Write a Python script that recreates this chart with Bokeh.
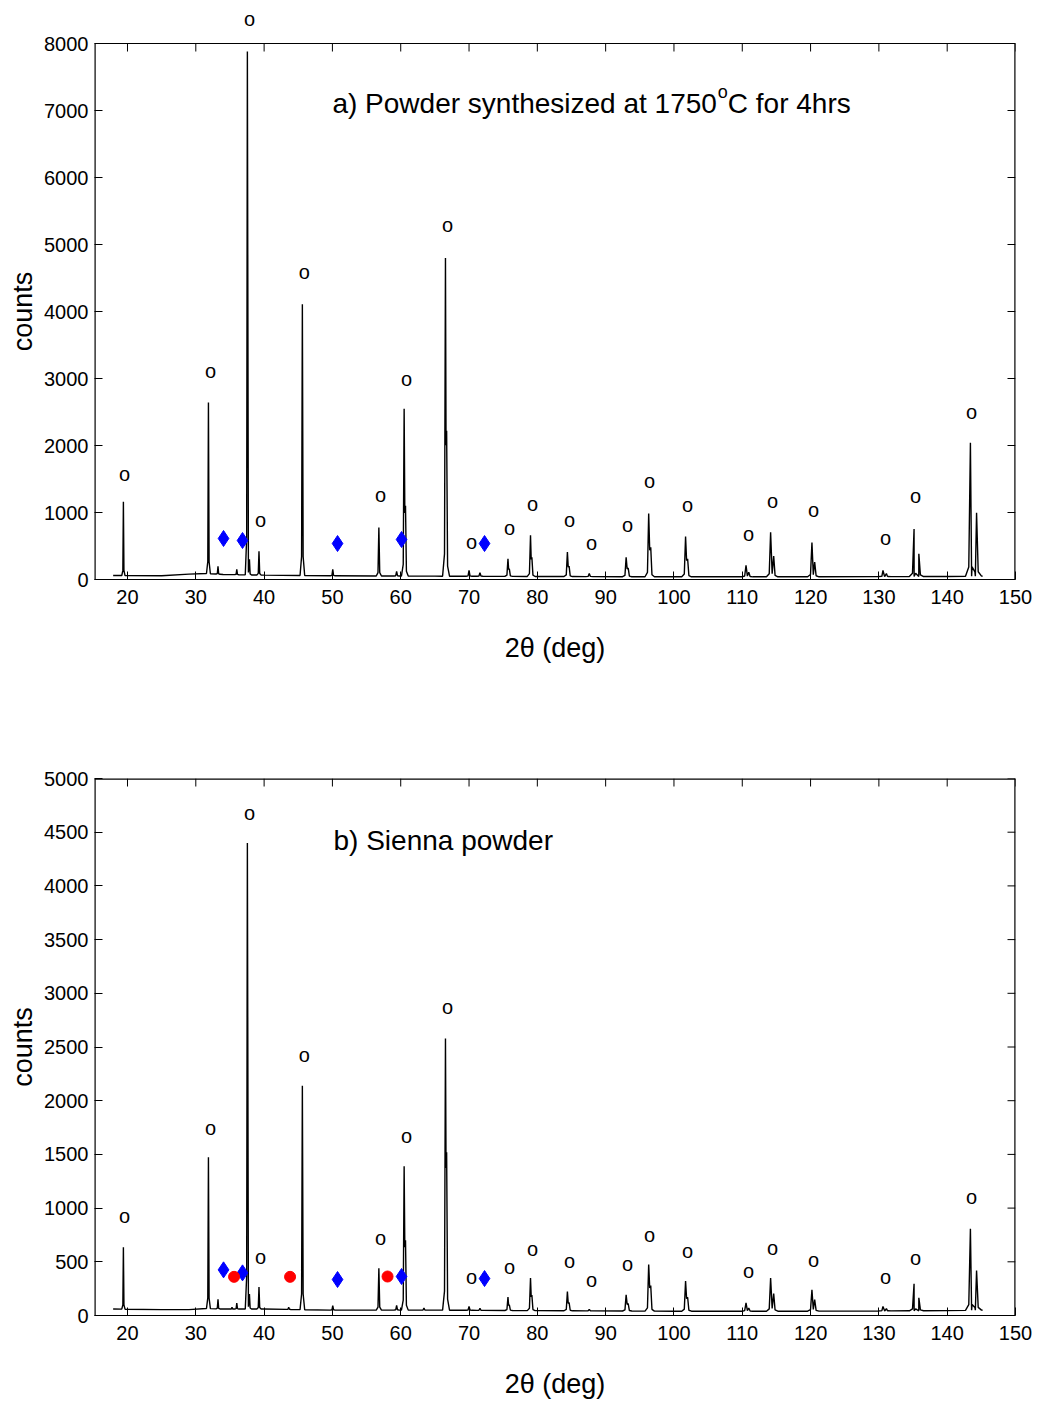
import numpy as np
from bokeh.plotting import figure
from bokeh.models import Range1d, FixedTicker, Label, Title
from bokeh.layouts import column
from bokeh.embed import file_html
from bokeh.resources import INLINE

# ---------------- data ----------------
# peak positions (2-theta, deg) shared by both patterns (incl. K-alpha2 shoulders)
peak_2theta = [19.4, 31.85, 33.25, 35.3, 36.0, 37.55, 37.85, 39.25, 43.6, 45.6,
               50.05, 56.8, 59.4, 60.5, 60.7, 63.4, 66.55, 66.72, 70.0, 71.6,
               75.7, 75.9, 79.0, 79.2, 84.4, 84.65, 87.6, 93.0, 93.3, 96.3,
               96.6, 101.7, 102.0, 110.55, 110.95, 114.15, 114.6, 120.2, 120.6, 130.6,
               131.1, 135.15, 135.85, 143.4, 144.3]
# peak top counts, panel a (0 = no peak)
peak_counts_a = [1160, 2640, 195, 0, 150, 7880, 300, 420, 0, 4110,
                 150, 775, 120, 2550, 1100, 0, 4800, 2220, 135, 100,
                 310, 160, 660, 330, 410, 200, 90, 330, 170, 985,
                 480, 640, 310, 210, 110, 705, 350, 550, 260, 135,
                 90, 755, 385, 2040, 995]
# peak top counts, panel b
peak_counts_b = [636, 1474, 150, 77, 115, 4400, 200, 265, 77, 2140,
                 93, 440, 93, 1390, 700, 70, 2580, 1520, 84, 68,
                 171, 100, 348, 190, 223, 120, 56, 192, 110, 475,
                 279, 320, 170, 118, 70, 348, 205, 239, 149, 84,
                 64, 295, 165, 807, 419]
# background level
base_2theta = [17.9, 25, 29, 31.5, 34, 40, 50, 65, 80, 100, 120, 140, 145.2]
base_counts_a = [60, 55, 80, 90, 75, 65, 55, 50, 45, 40, 40, 45, 50]
base_counts_b = [60, 55, 55, 65, 60, 60, 50, 50, 45, 40, 40, 45, 50]

# "o" reflection markers
o_2theta = [19.56, 32.15, 37.86, 39.47, 45.9, 57.04, 60.85, 66.85, 70.37, 75.93, 79.3,
            84.71, 87.94, 93.2, 96.43, 101.99, 110.92, 114.44, 120.44, 130.98, 135.37, 143.57]
o_counts_a = [1582, 3119, 8373, 881, 4597, 1254, 3000, 5284, 567, 776, 1134,
              881, 552, 806, 1463, 1119, 672, 1179, 1030, 612, 1239, 2493]
o_counts_b = [922, 1750, 4683, 549, 2421, 726, 1667, 2877, 363, 456, 615,
              503, 335, 475, 754, 605, 410, 624, 521, 363, 531, 1099]
# blue diamond markers
diamond_2theta = [34.06, 36.84, 50.75, 60.12, 72.27]
diamond_counts_a = [612, 582, 537, 597, 537]
diamond_counts_b = [425, 397, 335, 363, 344]
# red circle markers (panel b)
red_2theta = [35.6, 43.8, 58.07]
red_counts_b = [360, 360, 363]

x_ticks = list(range(20, 151, 10))
y_ticks_a = list(range(0, 8001, 1000))
y_ticks_b = list(range(0, 5001, 500))

FONT = "Liberation Sans"
X_LO, X_HI = 15.17, 150
FRAME_W = 921
TICK_PX = 8
LABEL_PX = 27


def build_trace(pos, heights, bx, by):
    comps = sorted((p, h) for p, h in zip(pos, heights) if h > 0)
    clusters = []
    for p, h in comps:
        if clusters and p - clusters[-1][-1][0] < 0.5:
            clusters[-1].append((p, h))
        else:
            clusters.append([(p, h)])
    xs, ys, spans = [], [], []
    for cl in clusters:
        p0, h0 = cl[0]
        pn, hn = cl[-1]
        w0 = 0.08 + 0.0013 * (p0 - 20)
        wn = 0.08 + 0.0013 * (pn - 20)
        left, right = p0 - 3 * w0, pn + 3 * wn
        bl = float(np.interp(left, bx, by))
        br = float(np.interp(right, bx, by))
        vx = [left, p0 - w0]
        vy = [bl, bl + 0.07 * (h0 - bl)]
        for i, (p, h) in enumerate(cl):
            if i > 0:
                pp, hp = cl[i - 1]
                gap = p - pp
                mid = (p + pp) / 2
                b = float(np.interp(mid, bx, by))
                frac = 0.9 if gap < 0.3 else 0.15
                vx.append(mid)
                vy.append(b + frac * (min(h, hp) - b))
            vx.append(p)
            vy.append(h)
        vx += [pn + wn, right]
        vy += [br + 0.07 * (hn - br), br]
        spans.append((left, right))
        xs += vx
        ys += vy
    for x, y in zip(bx, by):
        if not any(l <= x <= r for l, r in spans):
            xs.append(x)
            ys.append(y)
    order = np.argsort(xs, kind="stable")
    return [xs[i] for i in order], [ys[i] for i in order]


def make_panel(ymax, yticks, frame_h, extra_px, top_b, bottom_b, counts, base, o_y, d_y):
    # the frame is extended upwards by extra_px so that markers above the box stay visible
    full_h = frame_h + extra_px
    y_view = ymax * full_h / frame_h
    p = figure(frame_width=FRAME_W, frame_height=full_h,
               x_range=Range1d(X_LO, X_HI), y_range=Range1d(0, y_view),
               output_backend="svg", toolbar_location=None,
               min_border_left=94, min_border_right=22,
               min_border_top=top_b - extra_px, min_border_bottom=bottom_b,
               x_axis_label="2θ (deg)")
    p.grid.visible = False
    p.background_fill_color = "white"
    p.border_fill_color = "white"
    p.outline_line_color = None

    p.xaxis.ticker = FixedTicker(ticks=x_ticks)
    p.yaxis.ticker = FixedTicker(ticks=yticks)
    for ax in (p.xaxis[0], p.yaxis[0]):
        ax.axis_line_color = "black"
        ax.major_tick_line_color = "black"
        ax.major_tick_in = TICK_PX
        ax.major_tick_out = 0
        ax.minor_tick_in = 0
        ax.minor_tick_out = 0
        ax.major_label_text_font = FONT
        ax.major_label_text_font_size = "20px"
        ax.major_label_text_color = "black"
        ax.axis_label_text_font = FONT
        ax.axis_label_text_font_size = f"{LABEL_PX}px"
        ax.axis_label_text_font_style = "normal"
        ax.axis_label_text_color = "black"
    p.yaxis.axis_line_color = None
    p.xaxis.major_label_standoff = 10
    p.xaxis.axis_label_standoff = 26
    p.yaxis.major_label_standoff = 6

    # y-axis title, centred on the box (not on the extended frame)
    text_len = 2.946 * LABEL_PX  # length of "counts" (Arial metrics)
    p.add_layout(Title(text="counts", align="left", offset=frame_h / 2 - text_len / 2,
                       vertical_align="middle", standoff=6,
                       text_font=FONT, text_font_size=f"{LABEL_PX}px",
                       text_font_style="normal", text_color="black"), "left")

    # box: left / right / top edges (frame-edge lines are half clipped, hence wider)
    top_w = 1.2 if extra_px > 0 else 2.4
    p.segment(x0=[X_LO, X_HI], y0=[0, 0], x1=[X_LO, X_HI], y1=[ymax, ymax],
              line_color="black", line_width=2.4)
    p.segment(x0=[X_LO], y0=[ymax], x1=[X_HI], y1=[ymax],
              line_color="black", line_width=top_w)

    # inward ticks on the top and right edges of the box
    dy = TICK_PX * ymax / frame_h
    dx = TICK_PX * (X_HI - X_LO) / FRAME_W
    p.segment(x0=x_ticks, y0=[ymax] * len(x_ticks), x1=x_ticks, y1=[ymax - dy] * len(x_ticks),
              line_color="black", line_width=1)
    p.segment(x0=[X_HI] * len(yticks), y0=yticks, x1=[X_HI - dx] * len(yticks), y1=yticks,
              line_color="black", line_width=1)

    tx, ty = build_trace(peak_2theta, counts, base_2theta, base)
    p.line(tx, ty, line_color="black", line_width=1.4)

    for x, y in zip(o_2theta, o_y):
        p.add_layout(Label(x=x, y=y, text="o", text_align="center", text_baseline="middle",
                           text_font=FONT, text_font_size="20px", text_color="black"))
    p.scatter(diamond_2theta, d_y, marker="diamond", size=16,
              fill_color="#0000ff", line_color="#0000ff")
    return p


pa = make_panel(8000, y_ticks_a, 536, 34, 43, 121, peak_counts_a, base_counts_a,
                o_counts_a, diamond_counts_a)
pb = make_panel(5000, y_ticks_b, 537, 0, 78, 86, peak_counts_b, base_counts_b,
                o_counts_b, diamond_counts_b)
pb.scatter(red_2theta, red_counts_b, marker="circle", size=11,
           fill_color="#ff0000", line_color="#ff0000")

# panel titles
TS = 28
w_main = 13.729 * TS  # width of "a) Powder synthesized at 1750" (Arial metrics)
pa.add_layout(Label(x=50.0, y=7110, text="a) Powder synthesized at 1750",
                    text_font=FONT, text_font_size=f"{TS}px", text_baseline="alphabetic",
                    text_align="left", text_color="black"))
pa.add_layout(Label(x=50.0, y=7110, x_offset=w_main + 1, y_offset=11, text="o",
                    text_font=FONT, text_font_size="18px", text_baseline="alphabetic",
                    text_align="left", text_color="black"))
pa.add_layout(Label(x=50.0, y=7110, x_offset=w_main + 1 + 0.556 * 18, text="C for 4hrs",
                    text_font=FONT, text_font_size=f"{TS}px", text_baseline="alphabetic",
                    text_align="left", text_color="black"))
pb.add_layout(Label(x=50.16, y=4423, text="b) Sienna powder",
                    text_font=FONT, text_font_size=f"{TS}px", text_baseline="alphabetic",
                    text_align="left", text_color="black"))

layout = column(pa, pb, spacing=0)
open("out.html", "w").write(file_html(layout, INLINE))
